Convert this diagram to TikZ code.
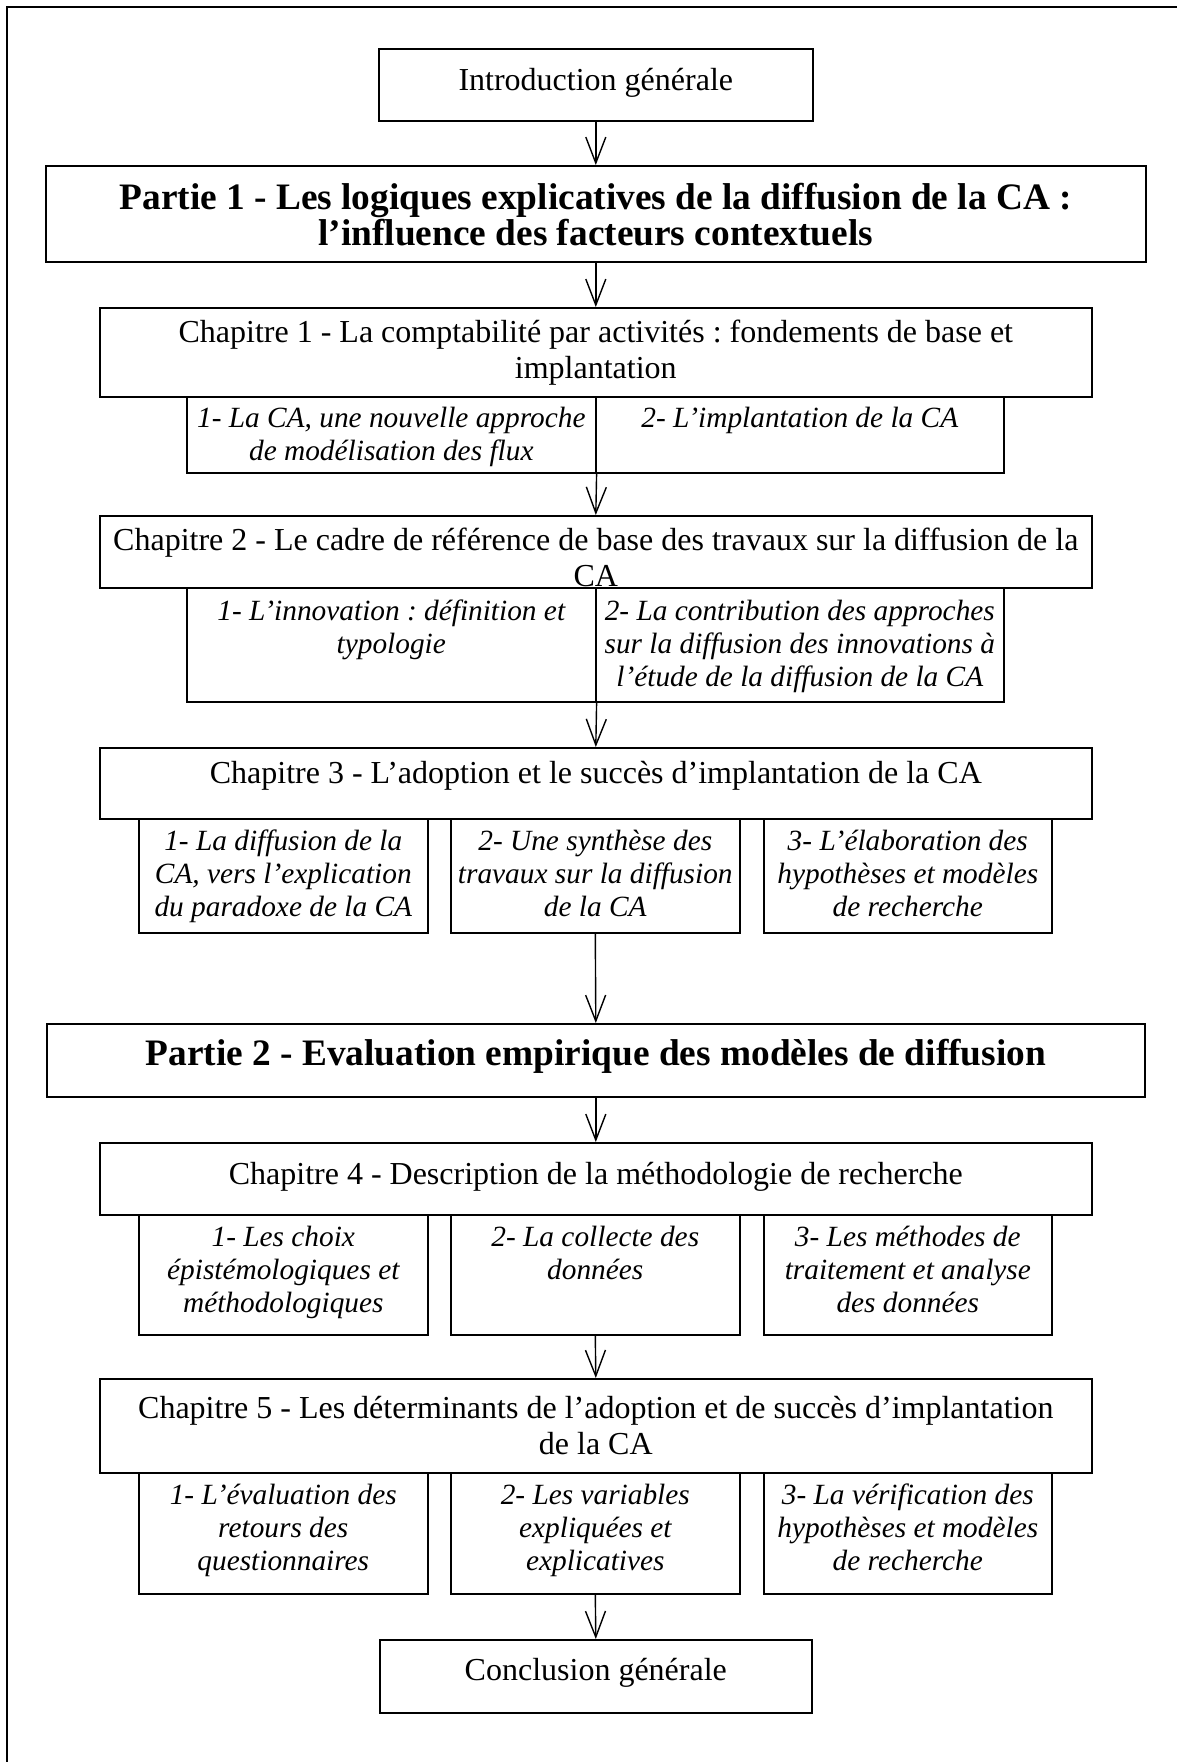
\documentclass[tikz,border=0pt]{standalone}
\usepackage{fontspec}
\setmainfont{Liberation Serif}
\usetikzlibrary{arrows.meta}

% \panel{name}{x1}{y1}{x2}{y2}{style}{first baseline from top}{text}
% draws a box between two corners (in px units) with top-aligned, centred text
\newcommand\panel[8]{%
  \pgfmathsetmacro\pnlw{(#4-#2)*0.5}%
  \pgfmathsetmacro\pnlh{(#5-#3)*0.5}%
  \pgfmathsetmacro\pnlb{#7*0.5}%
  \node[#6, anchor=north west] (#1) at (#2,#3)
    {\parbox[c][\pnlh pt][t]{\pnlw pt}{\centering\rule{0pt}{\pnlb pt}#8}};%
}

\tikzset{
  frameline/.style={line width=1.1pt},
  box/.style={draw, line width=0.8pt, inner sep=0pt, font=\fontsize{16}{18}\selectfont},
  subbox/.style={box, font=\fontsize{14.67}{16.5}\selectfont\itshape},
  partbox/.style={box, font=\fontsize{18.67}{18}\selectfont\bfseries},
  flow/.style={-{Straight Barb[length=13pt,width=10pt]}, line width=0.7pt},
}

\begin{document}
\frenchspacing
\begin{tikzpicture}[x=0.5pt, y=-0.5pt]
\useasboundingbox (0,0) rectangle (1177,1762);
\fill[white] (0,0) rectangle (1177,1762);

% page frame (top and left edges)
\draw[frameline] (7,1762) -- (7,7) -- (1177,7);

% introduction and part 1
\panel{intro}{378}{48}{812}{120}{box}{42}{Introduction générale}
\panel{p1}{45}{165}{1145}{261}{partbox}{44}{Partie 1 - Les logiques explicatives de la diffusion de la CA :\\ l’influence des facteurs contextuels}

% chapter 1
\panel{ch1}{99}{307}{1091}{396}{box}{35}{Chapitre 1 - La comptabilité par activités : fondements de base et\\ implantation}
\panel{c1a}{186}{396}{595}{472}{subbox}{31}{1- La CA, une nouvelle approche\\ de modélisation des flux}
\panel{c1b}{595}{396}{1003}{472}{subbox}{31}{2- L’implantation de la CA}

% chapter 2
\panel{ch2}{99}{515}{1091}{587}{box}{35}{Chapitre 2 - Le cadre de référence de base des travaux sur la diffusion de la\\ CA}
\panel{c2a}{186}{587}{595}{701}{subbox}{33}{1- L’innovation : définition et\\ typologie}
\panel{c2b}{595}{587}{1003}{701}{subbox}{33}{2- La contribution des approches\\ sur la diffusion des innovations à\\ l’étude de la diffusion de la CA}

% chapter 3
\panel{ch3}{99}{747}{1091}{818}{box}{36}{Chapitre 3 - L’adoption et le succès d’implantation de la CA}
\panel{c3a}{138}{818}{427}{932}{subbox}{32}{1- La diffusion de la\\ CA, vers l’explication\\ du paradoxe de la CA}
\panel{c3b}{450}{818}{739}{932}{subbox}{32}{2- Une synthèse des\\ travaux sur la diffusion\\ de la CA}
\panel{c3c}{763}{818}{1051}{932}{subbox}{32}{3- L’élaboration des\\ hypothèses et modèles\\ de recherche}

% part 2
\panel{p2}{46}{1023}{1144}{1096}{partbox}{42}{Partie 2 - Evaluation empirique des modèles de diffusion}

% chapter 4
\panel{ch4}{99}{1142}{1091}{1214}{box}{42}{Chapitre 4 - Description de la méthodologie de recherche}
\panel{c4a}{138}{1214}{427}{1334}{subbox}{32}{1- Les choix\\ épistémologiques et\\ méthodologiques}
\panel{c4b}{450}{1214}{739}{1334}{subbox}{32}{2- La collecte des\\ données}
\panel{c4c}{763}{1214}{1051}{1334}{subbox}{32}{3- Les méthodes de\\ traitement et analyse\\ des données}

% chapter 5
\panel{ch5}{99}{1378}{1091}{1472}{box}{40}{Chapitre 5 - Les déterminants de l’adoption et de succès d’implantation\\ de la CA}
\panel{c5a}{138}{1472}{427}{1593}{subbox}{32}{1- L’évaluation des\\ retours des\\ questionnaires}
\panel{c5b}{450}{1472}{739}{1593}{subbox}{32}{2- Les variables\\ expliquées et\\ explicatives}
\panel{c5c}{763}{1472}{1051}{1593}{subbox}{32}{3- La vérification des\\ hypothèses et modèles\\ de recherche}

% conclusion
\panel{concl}{379}{1639}{811}{1712}{box}{41}{Conclusion générale}

% flow between the blocks
\draw[flow] (intro.south) -- (p1.north);
\draw[flow] (p1.south) -- (ch1.north);
\draw[flow] (c1a.south east) -- (ch2.north);
\draw[flow] (c2a.south east) -- (ch3.north);
\draw[flow] (c3b.south) -- (p2.north);
\draw[flow] (p2.south) -- (ch4.north);
\draw[flow] (c4b.south) -- (ch5.north);
\draw[flow] (c5b.south) -- (concl.north);
\end{tikzpicture}
\end{document}
